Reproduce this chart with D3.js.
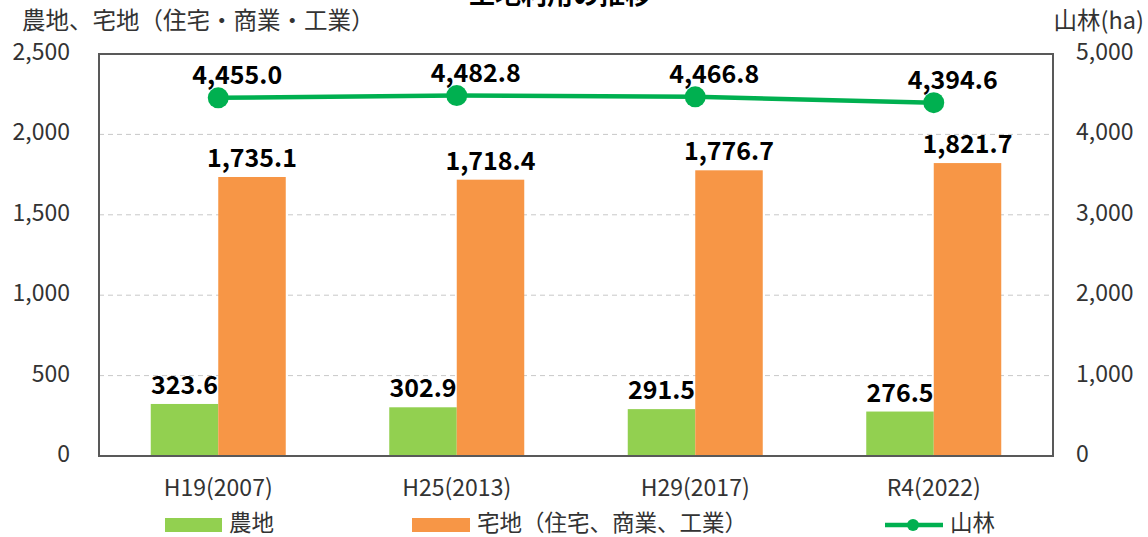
<!DOCTYPE html>
<html>
<head>
<meta charset="utf-8">
<script src="https://cdn.jsdelivr.net/npm/d3@7"></script>
<style>
  body { margin: 0; background: #fff; }
  svg text { font-family: "Noto Sans CJK JP", "Noto Sans", sans-serif; }
</style>
</head>
<body>
<svg id="chart" width="1148" height="537"></svg>
<script>
const categories = ["H19(2007)", "H25(2013)", "H29(2017)", "R4(2022)"];
const farmland   = [323.6, 302.9, 291.5, 276.5];     // 農地
const residental = [1735.1, 1718.4, 1776.7, 1821.7]; // 宅地
const forest     = [4455.0, 4482.8, 4466.8, 4394.6]; // 山林
const leftTicks  = [0, 500, 1000, 1500, 2000, 2500];
const rightTicks = [0, 1000, 2000, 3000, 4000, 5000];

const GREEN_BAR = "#92D050";
const ORANGE    = "#F79646";
const GREEN_LN  = "#00B050";
const TXT       = "#333";

const plot = {left: 99, right: 1053, top: 54, bottom: 456};
const svg = d3.select("#chart");
const fmt = d3.format(",.1f");
const fmtTick = d3.format(",");

const x = d3.scaleBand().domain(categories).range([plot.left, plot.right]);
const yL = d3.scaleLinear().domain([0, 2500]).range([plot.bottom, plot.top]);
const yR = d3.scaleLinear().domain([0, 5000]).range([plot.bottom, plot.top]);
const barW = 67.5;

// title (cut off at the top in the source)
svg.append("text")
  .attr("x", 560).attr("y", 4)
  .attr("text-anchor", "middle")
  .attr("font-size", 26).attr("font-weight", "bold")
  .text("土地利用の推移");

// grid lines
svg.append("g").selectAll("line")
  .data(leftTicks.filter(d => d > 0 && d < 2500))
  .enter().append("line")
  .attr("x1", plot.left).attr("x2", plot.right)
  .attr("y1", d => yL(d)).attr("y2", d => yL(d))
  .attr("stroke", "#c8c8c8").attr("stroke-dasharray", "5,4").attr("stroke-width", 1);

// bars
const grp = svg.append("g");
grp.selectAll(".farm").data(farmland).enter().append("rect")
  .attr("x", (d, i) => x(categories[i]) + x.bandwidth() / 2 - barW)
  .attr("y", d => yL(d))
  .attr("width", barW)
  .attr("height", d => plot.bottom - yL(d))
  .attr("fill", GREEN_BAR);

grp.selectAll(".res").data(residental).enter().append("rect")
  .attr("x", (d, i) => x(categories[i]) + x.bandwidth() / 2)
  .attr("y", d => yL(d))
  .attr("width", barW)
  .attr("height", d => plot.bottom - yL(d))
  .attr("fill", ORANGE);

// bar labels
grp.selectAll(".farmLbl").data(farmland).enter().append("text")
  .attr("x", (d, i) => x(categories[i]) + x.bandwidth() / 2 - barW / 2)
  .attr("y", d => yL(d) - 10)
  .attr("text-anchor", "middle")
  .attr("font-size", 25).attr("font-weight", "bold").attr("fill", "#000")
  .text(d => fmt(d));

grp.selectAll(".resLbl").data(residental).enter().append("text")
  .attr("x", (d, i) => x(categories[i]) + x.bandwidth() / 2 + barW / 2)
  .attr("y", d => yL(d) - 10)
  .attr("text-anchor", "middle")
  .attr("font-size", 25).attr("font-weight", "bold").attr("fill", "#000")
  .text(d => fmt(d));

// plot border
svg.append("rect")
  .attr("x", plot.left).attr("y", plot.top)
  .attr("width", plot.right - plot.left).attr("height", plot.bottom - plot.top)
  .attr("fill", "none").attr("stroke", "#595959").attr("stroke-width", 2);

// forest line
const line = d3.line()
  .x((d, i) => x(categories[i]) + x.bandwidth() / 2)
  .y(d => yR(d));

svg.append("path")
  .datum(forest)
  .attr("d", line)
  .attr("fill", "none").attr("stroke", GREEN_LN).attr("stroke-width", 4.5);

svg.selectAll(".pt").data(forest).enter().append("circle")
  .attr("cx", (d, i) => x(categories[i]) + x.bandwidth() / 2)
  .attr("cy", d => yR(d))
  .attr("r", 10.5)
  .attr("fill", GREEN_LN);

svg.selectAll(".ptLbl").data(forest).enter().append("text")
  .attr("x", (d, i) => x(categories[i]) + x.bandwidth() / 2 + 19)
  .attr("y", d => yR(d) - 14)
  .attr("text-anchor", "middle")
  .attr("font-size", 25).attr("font-weight", "bold").attr("fill", "#000")
  .text(d => fmt(d));

// left axis
svg.append("g").selectAll("text").data(leftTicks).enter().append("text")
  .attr("x", 70).attr("y", d => yL(d) + 6)
  .attr("text-anchor", "end")
  .attr("font-size", 23).attr("fill", TXT)
  .text(d => fmtTick(d));

// right axis
svg.append("g").selectAll("text").data(rightTicks).enter().append("text")
  .attr("x", 1076).attr("y", d => yR(d) + 6)
  .attr("text-anchor", "start")
  .attr("font-size", 23).attr("fill", TXT)
  .text(d => fmtTick(d));

// category labels
svg.append("g").selectAll("text").data(categories).enter().append("text")
  .attr("x", d => x(d) + x.bandwidth() / 2)
  .attr("y", 496)
  .attr("text-anchor", "middle")
  .attr("font-size", 23).attr("fill", TXT)
  .text(d => d);

// axis titles
svg.append("text")
  .attr("x", 22).attr("y", 29)
  .attr("font-size", 23.5).attr("fill", TXT)
  .text("農地、宅地（住宅・商業・工業）");

svg.append("text")
  .attr("x", 1144).attr("y", 29)
  .attr("text-anchor", "end")
  .attr("font-size", 23.5).attr("fill", TXT)
  .text("山林(ha)");

// legend
const legend = svg.append("g");
legend.append("rect").attr("x", 165).attr("y", 518).attr("width", 57).attr("height", 14).attr("fill", GREEN_BAR);
legend.append("text").attr("x", 229).attr("y", 531).attr("font-size", 22.5).attr("fill", TXT).text("農地");

legend.append("rect").attr("x", 412).attr("y", 518).attr("width", 58).attr("height", 14).attr("fill", ORANGE);
legend.append("text").attr("x", 477).attr("y", 531).attr("font-size", 22.5).attr("fill", TXT).text("宅地（住宅、商業、工業）");

legend.append("line").attr("x1", 885).attr("x2", 943).attr("y1", 525).attr("y2", 525)
  .attr("stroke", GREEN_LN).attr("stroke-width", 4.5);
legend.append("circle").attr("cx", 913).attr("cy", 525).attr("r", 6).attr("fill", GREEN_LN);
legend.append("text").attr("x", 950).attr("y", 531).attr("font-size", 22.5).attr("fill", TXT).text("山林");
</script>
</body>
</html>
